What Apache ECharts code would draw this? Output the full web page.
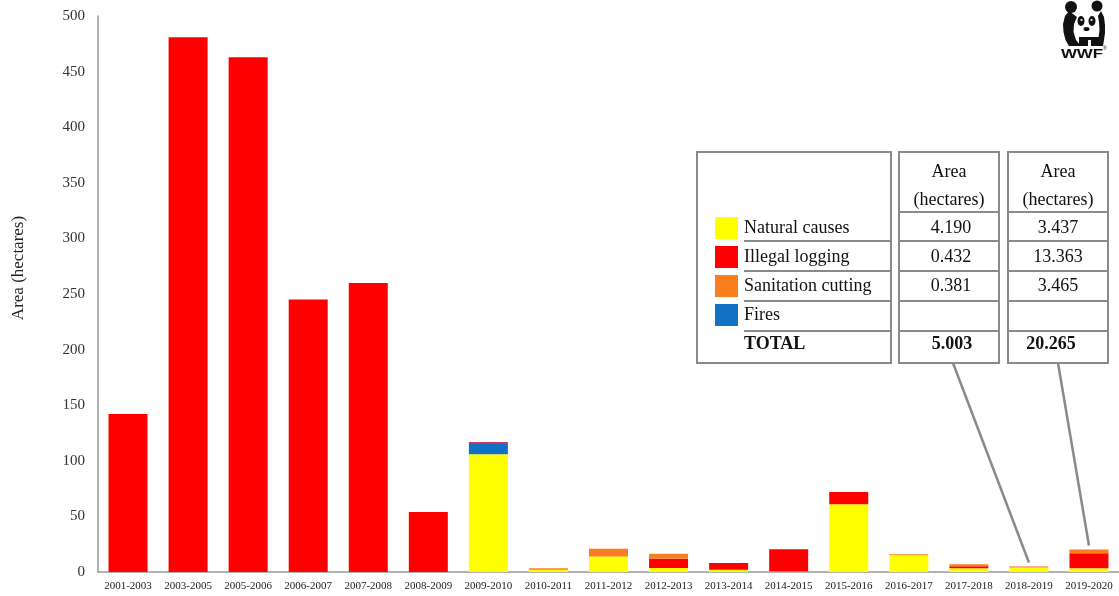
<!DOCTYPE html>
<html><head><meta charset="utf-8">
<script src="https://cdn.jsdelivr.net/npm/echarts@6/dist/echarts.min.js"></script>
<style>html,body{margin:0;padding:0;background:#fff}#c{width:1119px;height:596px}</style>
</head><body><div id="c"></div>
<script>
const categories = ['2001-2003','2003-2005','2005-2006','2006-2007','2007-2008','2008-2009','2009-2010','2010-2011','2011-2012','2012-2013','2013-2014','2014-2015','2015-2016','2016-2017','2017-2018','2018-2019','2019-2020'];
const naturalCauses     = [0,0,0,0,0,0,106,2,14,3.5,2,0.5,61,15,3.3,4.190,3.437];
const illegalLogging    = [142,481,463,245,260,54,0,0,0,8.5,6,20,11,0,1.8,0.432,13.363];
const sanitationCutting = [0,0,0,0,0,0,0,1.3,7,4.5,0,0,0,1,1.8,0.381,3.465];
const fires             = [0,0,0,0,0,0,9,0,0,0,0,0,0,0,0,0,0];
const otherCauses       = [0,0,0,0,0,0,2,0,0,0,0,0,0,0,0,0,0];
const yMin = 0, yMax = 500, yStep = 50;

const tableLabels = ['Natural causes','Illegal logging','Sanitation cutting','Fires'];
const tableHeader = ['Area','(hectares)'];
const table2018 = ['4.190','0.432','0.381',''];
const table2019 = ['3.437','13.363','3.465',''];
const tableTotals = ['5.003','20.265'];
const totalLabel = 'TOTAL';
const calloutCats = ['2018-2019','2019-2020'];

const COLORS = {natural:'#FFFF00', illegal:'#FF0000', sanitation:'#FA7D1E', fires:'#1171C3', other:'#C8385A'};
const SERIF = '"Liberation Serif","Times New Roman",serif';

const chart = echarts.init(document.getElementById('c'), null, {renderer:'canvas'});

function barSeries(name, data, color){
  return {name, type:'bar', stack:'total', data, barWidth:39, itemStyle:{color}, emphasis:{disabled:true}, animation:false};
}

// ---- table graphic ----
const BORDER = '#8a8a8a';
const g = [];
function rect(x,y,w,h){ g.push({type:'rect', shape:{x,y,width:w,height:h}, style:{fill:'#fff', stroke:BORDER, lineWidth:2}, z:10}); }
function hline(x1,x2,y){ g.push({type:'line', shape:{x1,y1:y,x2,y2:y}, style:{stroke:BORDER, lineWidth:2}, z:11}); }
function txt(t,x,y,opt){ opt=opt||{}; g.push({type:'text', z:12, style:{text:t, x, y, font:(opt.bold?'bold ':'')+'18px '+SERIF, fill:'#111', align:opt.align||'left', verticalAlign:'middle', textAlign:opt.align||'left', textVerticalAlign:'middle'}}); }

const box1 = {x:697, w:194}, box2 = {x:899, w:100}, box3 = {x:1008, w:100};
const tTop = 152, tH = 211;
rect(box1.x, tTop, box1.w, tH);
rect(box2.x, tTop, box2.w, tH);
rect(box3.x, tTop, box3.w, tH);
const rowLines = [241, 271, 301, 331];
hline(box2.x, box2.x+box2.w, 212);
hline(box3.x, box3.x+box3.w, 212);
rowLines.forEach(y=>{ hline(744, box1.x+box1.w, y); hline(box2.x, box2.x+box2.w, y); hline(box3.x, box3.x+box3.w, y); });
const rowCenters = [228, 257, 286, 315];
const swatchColors = [COLORS.natural, COLORS.illegal, COLORS.sanitation, COLORS.fires];
tableLabels.forEach((lab,i)=>{
  g.push({type:'rect', z:12, shape:{x:715, y:rowCenters[i]-11, width:23, height:22}, style:{fill:swatchColors[i]}});
  txt(lab, 744, rowCenters[i]);
  txt(table2018[i], 951, rowCenters[i], {align:'center'});
  txt(table2019[i], 1058, rowCenters[i], {align:'center'});
});
txt(totalLabel, 744, 344, {bold:true});
txt(tableTotals[0], 952, 344, {bold:true, align:'center'});
txt(tableTotals[1], 1051, 344, {bold:true, align:'center'});
[949, 1058].forEach(cx=>{ txt(tableHeader[0], cx, 172, {align:'center'}); txt(tableHeader[1], cx, 200, {align:'center'}); });

// y axis title
g.push({type:'text', z:12, x:19, y:268, rotation:Math.PI/2, style:{text:'Area (hectares)', font:'17px '+SERIF, fill:'#222', align:'center', verticalAlign:'middle', textAlign:'center', textVerticalAlign:'middle'}});

// WWF logo (simplified panda)
function oval(cx,cy,rx,ry,fill){ return {type:'circle', x:cx, y:cy, scaleX:rx/ry, scaleY:1, shape:{cx:0, cy:0, r:ry}, style:{fill}}; }
function poly(points){ return {type:'polygon', shape:{points}, style:{fill:'#111'}}; }
const L = {type:'group', x:1062, y:0, z:12, children:[
  {type:'circle', shape:{cx:9, cy:7, r:6}, style:{fill:'#111'}},
  {type:'circle', shape:{cx:35, cy:6, r:5.5}, style:{fill:'#111'}},
  poly([[7,11],[3,16],[1,24],[1.5,32],[3.5,40],[7,46],[19,46],[14,40],[11.5,32],[12,24],[15,17],[11,14]]),
  poly([[39,11],[42,17],[43,25],[43,33],[42,40],[41,46],[35,46],[36.5,38],[37.5,30],[37,22],[36,16]]),
  oval(19,21,3.5,5,'#111'),
  oval(30,21,3.5,5,'#111'),
  {type:'circle', shape:{cx:19.5, cy:20, r:1.1}, style:{fill:'#fff'}},
  {type:'circle', shape:{cx:29.5, cy:20, r:1.1}, style:{fill:'#fff'}},
  oval(24.5,29,3,2,'#111'),
  poly([[17,37],[38,37],[38,46],[29,46],[29,40],[26,40],[26,46],[17,46]]),
  {type:'text', x:20, y:54, scaleX:1.3, style:{text:'WWF', x:0, y:0, font:'bold 13px "Liberation Sans",Arial,sans-serif', fill:'#111', align:'center', verticalAlign:'middle', textAlign:'center', textVerticalAlign:'middle'}},
  {type:'text', style:{text:'®', x:41, y:46, font:'5px "Liberation Sans",Arial,sans-serif', fill:'#111'}}
]};
g.push(L);

const option = {
  animation:false,
  backgroundColor:'#fff',
  grid:{left:98, right:0, top:16, bottom:24, containLabel:false},
  xAxis:{type:'category', data:categories, boundaryGap:true,
    axisLine:{show:true, lineStyle:{color:'#9a9a9a', width:1.5}}, axisTick:{show:false}, splitLine:{show:false},
    axisLabel:{fontFamily:SERIF, fontSize:11, color:'#222', margin:9, interval:0}},
  yAxis:{type:'value', min:yMin, max:yMax, interval:yStep,
    axisLine:{show:true, lineStyle:{color:'#9a9a9a', width:1.5}}, axisTick:{show:false}, splitLine:{show:false},
    axisLabel:{fontFamily:SERIF, fontSize:15, color:'#333', margin:13}},
  series:[
    barSeries('Natural causes', naturalCauses, COLORS.natural),
    barSeries('Illegal logging', illegalLogging, COLORS.illegal),
    barSeries('Sanitation cutting', sanitationCutting, COLORS.sanitation),
    barSeries('Fires', fires, COLORS.fires),
    barSeries('Other', otherCauses, COLORS.other)
  ],
  graphic:{elements:g}
};
chart.setOption(option);

// callout lines from the table to the bar tops
const starts = [[953, 363], [1058, 363]];
const lines = calloutCats.map((cat,k)=>{
  const i = categories.indexOf(cat);
  const tot = naturalCauses[i]+illegalLogging[i]+sanitationCutting[i]+fires[i]+otherCauses[i];
  const p = chart.convertToPixel({gridIndex:0}, [cat, tot]);
  return {type:'line', z:13, shape:{x1:starts[k][0], y1:starts[k][1], x2:p[0], y2:p[1]-4}, style:{stroke:'#8a8a8a', lineWidth:2.5}};
});
chart.setOption({graphic:{elements:g.concat(lines)}});
</script>
</body></html>
